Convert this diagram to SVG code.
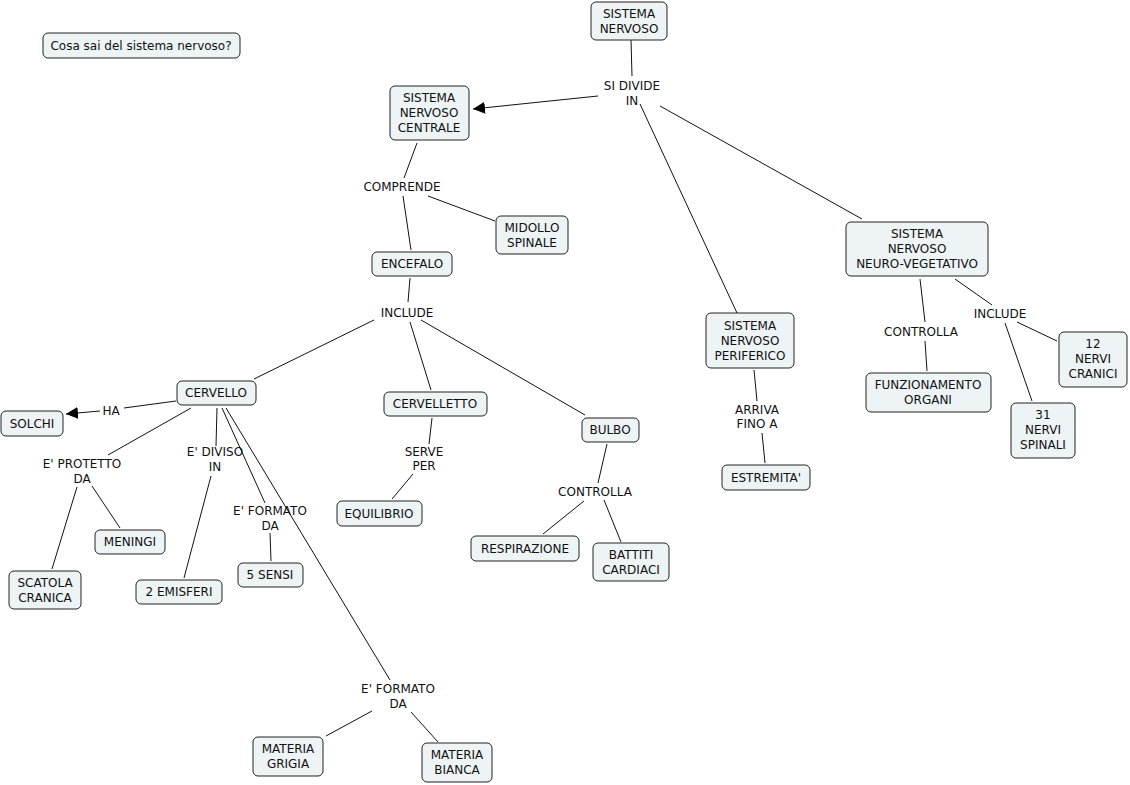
<svg xmlns="http://www.w3.org/2000/svg" width="1130" height="785" viewBox="0 0 1130 785">
<style>
.n rect{fill:#eef3f5;stroke:#222;stroke-width:1}
text{font-family:"DejaVu Sans",Verdana,sans-serif;font-size:12px;fill:#111;text-anchor:middle}
.c line{stroke:#111;stroke-width:1}
</style>
<defs>
<marker id="ah" viewBox="0 0 10 10" refX="10" refY="5" markerWidth="12" markerHeight="12" markerUnits="userSpaceOnUse" orient="auto">
<path d="M0,0L10,5L0,10z" fill="#000"/>
</marker>
</defs>
<rect width="1130" height="785" fill="#fff"/>
<g class="c">
<line x1="631" y1="40" x2="632" y2="76"/>
<line x1="598" y1="96" x2="473" y2="109" marker-end="url(#ah)"/>
<line x1="640" y1="104" x2="737" y2="313"/>
<line x1="660" y1="106" x2="862" y2="219"/>
<line x1="417" y1="143" x2="404" y2="178"/>
<line x1="403" y1="196" x2="411" y2="250"/>
<line x1="428" y1="196" x2="495" y2="221"/>
<line x1="410" y1="278" x2="408" y2="302"/>
<line x1="374" y1="320" x2="254" y2="379"/>
<line x1="410" y1="322" x2="431" y2="390"/>
<line x1="421" y1="320" x2="585" y2="415"/>
<line x1="176" y1="401" x2="124" y2="408"/>
<line x1="100" y1="411" x2="66" y2="414" marker-end="url(#ah)"/>
<line x1="191" y1="408" x2="108" y2="455"/>
<line x1="77" y1="487" x2="52" y2="569"/>
<line x1="92" y1="486" x2="120" y2="528"/>
<line x1="217" y1="408" x2="216" y2="446"/>
<line x1="211" y1="476" x2="184" y2="578"/>
<line x1="222" y1="408" x2="265" y2="503"/>
<line x1="270" y1="533" x2="271" y2="561"/>
<line x1="226" y1="408" x2="390" y2="680"/>
<line x1="372" y1="711" x2="326" y2="736"/>
<line x1="411" y1="712" x2="438" y2="742"/>
<line x1="432" y1="418" x2="429" y2="444"/>
<line x1="413" y1="474" x2="392" y2="499"/>
<line x1="607" y1="444" x2="598" y2="483"/>
<line x1="584" y1="501" x2="543" y2="534"/>
<line x1="604" y1="500" x2="621" y2="542"/>
<line x1="754" y1="370" x2="757" y2="401"/>
<line x1="762" y1="433" x2="765" y2="463"/>
<line x1="920" y1="279" x2="925" y2="322"/>
<line x1="925" y1="341" x2="927" y2="371"/>
<line x1="955" y1="279" x2="992" y2="305"/>
<line x1="1005" y1="323" x2="1032" y2="401"/>
<line x1="1017" y1="322" x2="1057" y2="341"/>
</g>
<g id="title" class="n"><rect x="43" y="33" width="197" height="25" rx="5"/><text x="141" y="50">Cosa sai del sistema nervoso?</text></g>
<g id="sn" class="n"><rect x="591" y="2" width="76" height="38" rx="5"/><text x="629" y="18">SISTEMA</text><text x="629" y="33">NERVOSO</text></g>
<g id="snc" class="n"><rect x="390" y="86" width="79" height="54" rx="5"/><text x="429" y="102">SISTEMA</text><text x="429" y="117">NERVOSO</text><text x="429" y="132">CENTRALE</text></g>
<g id="midollo" class="n"><rect x="496" y="216" width="72" height="38" rx="5"/><text x="532" y="232">MIDOLLO</text><text x="532" y="247">SPINALE</text></g>
<g id="encefalo" class="n"><rect x="372" y="252" width="80" height="24" rx="5"/><text x="412" y="268">ENCEFALO</text></g>
<g id="cervello" class="n"><rect x="177" y="381" width="79" height="24" rx="5"/><text x="216" y="397">CERVELLO</text></g>
<g id="solchi" class="n"><rect x="1" y="411" width="62" height="25" rx="5"/><text x="32" y="428">SOLCHI</text></g>
<g id="cervelletto" class="n"><rect x="384" y="392" width="103" height="24" rx="5"/><text x="435" y="408">CERVELLETTO</text></g>
<g id="bulbo" class="n"><rect x="582" y="418" width="57" height="24" rx="5"/><text x="610" y="434">BULBO</text></g>
<g id="equilibrio" class="n"><rect x="337" y="501" width="85" height="25" rx="5"/><text x="379" y="518">EQUILIBRIO</text></g>
<g id="respirazione" class="n"><rect x="471" y="536" width="108" height="25" rx="5"/><text x="525" y="553">RESPIRAZIONE</text></g>
<g id="battiti" class="n"><rect x="593" y="543" width="76" height="38" rx="5"/><text x="631" y="559">BATTITI</text><text x="631" y="574">CARDIACI</text></g>
<g id="meningi" class="n"><rect x="95" y="530" width="70" height="24" rx="5"/><text x="130" y="546">MENINGI</text></g>
<g id="scatola" class="n"><rect x="9" y="571" width="72" height="38" rx="5"/><text x="45" y="587">SCATOLA</text><text x="45" y="602">CRANICA</text></g>
<g id="emisferi" class="n"><rect x="136" y="580" width="86" height="24" rx="5"/><text x="179" y="596">2 EMISFERI</text></g>
<g id="sensi" class="n"><rect x="238" y="563" width="65" height="24" rx="5"/><text x="270" y="579">5 SENSI</text></g>
<g id="grigia" class="n"><rect x="253" y="737" width="70" height="39" rx="5"/><text x="288" y="753">MATERIA</text><text x="288" y="768">GRIGIA</text></g>
<g id="bianca" class="n"><rect x="422" y="743" width="70" height="39" rx="5"/><text x="457" y="759">MATERIA</text><text x="457" y="774">BIANCA</text></g>
<g id="snp" class="n"><rect x="706" y="313" width="88" height="55" rx="5"/><text x="750" y="330">SISTEMA</text><text x="750" y="345">NERVOSO</text><text x="750" y="360">PERIFERICO</text></g>
<g id="estremita" class="n"><rect x="722" y="465" width="88" height="25" rx="5"/><text x="766" y="482">ESTREMITA'</text></g>
<g id="snnv" class="n"><rect x="846" y="222" width="142" height="54" rx="5"/><text x="917" y="238">SISTEMA</text><text x="917" y="253">NERVOSO</text><text x="917" y="268">NEURO-VEGETATIVO</text></g>
<g id="funz" class="n"><rect x="866" y="373" width="125" height="39" rx="5"/><text x="928" y="389">FUNZIONAMENTO</text><text x="928" y="404">ORGANI</text></g>
<g id="cranici" class="n"><rect x="1059" y="332" width="68" height="55" rx="5"/><text x="1093" y="348">12</text><text x="1093" y="363">NERVI</text><text x="1093" y="378">CRANICI</text></g>
<g id="spinali" class="n"><rect x="1011" y="403" width="64" height="55" rx="5"/><text x="1043" y="419">31</text><text x="1043" y="434">NERVI</text><text x="1043" y="449">SPINALI</text></g>
<g id="labels">
<text x="632" y="90">SI DIVIDE</text><text x="632" y="105">IN</text>
<text x="402" y="191">COMPRENDE</text>
<text x="407" y="317">INCLUDE</text>
<text x="111" y="415">HA</text>
<text x="82" y="468">E' PROTETTO</text><text x="82" y="483">DA</text>
<text x="215" y="456">E' DIVISO</text><text x="215" y="471">IN</text>
<text x="270" y="515">E' FORMATO</text><text x="270" y="530">DA</text>
<text x="398" y="693">E' FORMATO</text><text x="398" y="708">DA</text>
<text x="424" y="456">SERVE</text><text x="424" y="470">PER</text>
<text x="595" y="496">CONTROLLA</text>
<text x="757" y="414">ARRIVA</text><text x="757" y="428">FINO A</text>
<text x="921" y="336">CONTROLLA</text>
<text x="1000" y="318">INCLUDE</text>
</g>
</svg>
